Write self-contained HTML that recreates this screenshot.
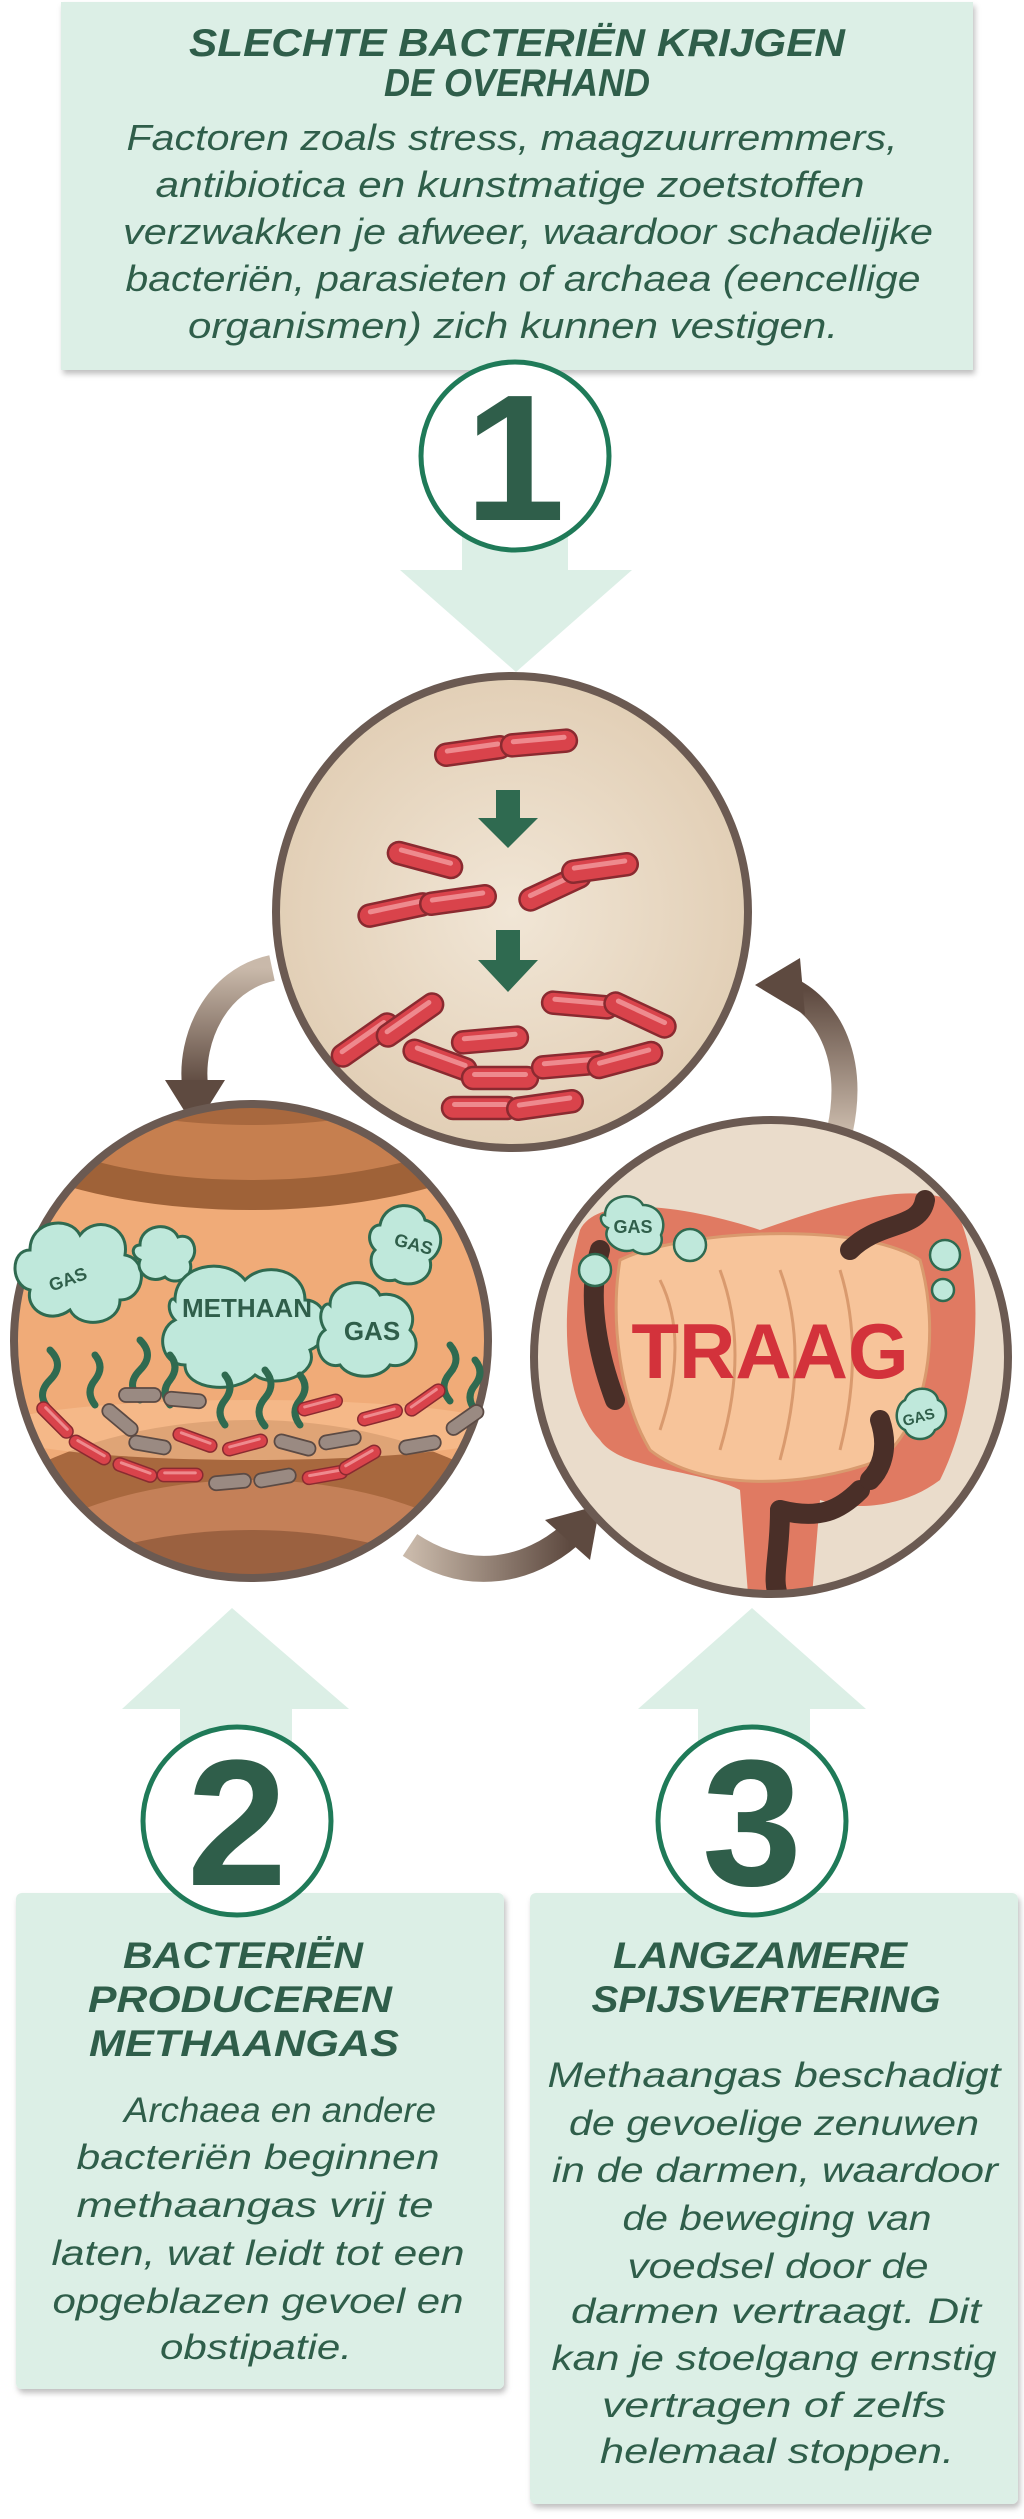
<!DOCTYPE html>
<html><head><meta charset="utf-8"><style>
html,body{margin:0;padding:0;background:#fff;}
svg{display:block;}
.t{font-family:"Liberation Sans",sans-serif;font-weight:bold;font-style:italic;fill:#2f5e4a;text-anchor:middle;}
.b{font-family:"Liberation Sans",sans-serif;font-style:italic;fill:#2f5e4a;text-anchor:middle;}
.n{font-family:"Liberation Sans",sans-serif;font-weight:bold;fill:#2f5e4a;text-anchor:middle;}
.g{font-family:"Liberation Sans",sans-serif;font-weight:bold;fill:#2f5e4a;text-anchor:middle;}
</style></head><body>
<svg width="1024" height="2519" viewBox="0 0 1024 2519" xmlns="http://www.w3.org/2000/svg">
<defs>
<filter id="sh" x="-5%" y="-5%" width="110%" height="115%"><feDropShadow dx="2" dy="4" stdDeviation="3" flood-color="#000" flood-opacity="0.25"/></filter>
<clipPath id="cL"><circle cx="251" cy="1341" r="236"/></clipPath>
<clipPath id="cR"><circle cx="771" cy="1357" r="236"/></clipPath>
<linearGradient id="ag1" x1="0" y1="0" x2="0" y2="1"><stop offset="0" stop-color="#c9b9aa"/><stop offset="1" stop-color="#5e4a40"/></linearGradient>
<linearGradient id="ag2" x1="0" y1="0" x2="1" y2="0"><stop offset="0" stop-color="#c9b9aa"/><stop offset="1" stop-color="#5e4a40"/></linearGradient>
<linearGradient id="ag3" x1="0" y1="1" x2="0" y2="0"><stop offset="0" stop-color="#c9b9aa"/><stop offset="1" stop-color="#5e4a40"/></linearGradient>
<radialGradient id="bg1"><stop offset="0" stop-color="#f1e6d6"/><stop offset="1" stop-color="#e2cfb6"/></radialGradient>
<g id="pill"><rect x="-38" y="-11" width="76" height="22" rx="11" fill="#d9434b" stroke="#8a2a30" stroke-width="2.5"/><rect x="-28" y="-6" width="56" height="5" rx="2.5" fill="#ee8a8e"/></g>
<g id="gpill"><rect x="-30" y="-10" width="60" height="20" rx="10" fill="#9a8a82" stroke="#5b4a44" stroke-width="2.5"/></g>
</defs>

<!-- top box -->
<rect x="61" y="2" width="912" height="368" fill="#dcefe6" filter="url(#sh)"/>
<text class="t" x="517" y="56" font-size="39" textLength="656" lengthAdjust="spacingAndGlyphs">SLECHTE BACTERIËN KRIJGEN</text>
<text class="t" x="517" y="96" font-size="39" textLength="266" lengthAdjust="spacingAndGlyphs">DE OVERHAND</text>
<text class="b" x="512" y="150" font-size="36" textLength="771" lengthAdjust="spacingAndGlyphs">Factoren zoals stress, maagzuurremmers,</text>
<text class="b" x="510" y="197" font-size="36" textLength="709" lengthAdjust="spacingAndGlyphs">antibiotica en kunstmatige zoetstoffen</text>
<text class="b" x="528" y="244" font-size="36" textLength="810" lengthAdjust="spacingAndGlyphs">verzwakken je afweer, waardoor schadelijke</text>
<text class="b" x="523" y="291" font-size="36" textLength="795" lengthAdjust="spacingAndGlyphs">bacteriën, parasieten of archaea (eencellige</text>
<text class="b" x="513" y="338" font-size="36" textLength="650" lengthAdjust="spacingAndGlyphs">organismen) zich kunnen vestigen.</text>

<!-- down arrow 1 -->
<rect x="462" y="520" width="106" height="70" fill="#dcefe6"/>
<polygon points="400,570 632,570 516,672" fill="#dcefe6"/>
<circle cx="515" cy="456" r="94" fill="#fff" stroke="#1f7a58" stroke-width="5"/>
<text class="n" x="515" y="520" font-size="180">1</text>

<!-- connectors -->
<path d="M272,968 C215,980 190,1040 195,1085" fill="none" stroke="url(#ag1)" stroke-width="26"/>
<polygon points="165,1080 225,1080 195,1128" fill="#5e4a40"/>
<path d="M410,1545 C470,1585 530,1570 570,1535" fill="none" stroke="url(#ag2)" stroke-width="26"/>
<polygon points="545,1520 600,1505 590,1560" fill="#5e4a40"/>
<path d="M840,1130 C855,1060 830,1010 790,990" fill="none" stroke="url(#ag3)" stroke-width="26"/>
<polygon points="755,985 800,958 805,1015" fill="#5e4a40"/>

<!-- top circle -->
<circle cx="512" cy="912" r="236" fill="url(#bg1)" stroke="#6b5a52" stroke-width="8"/>
<use href="#pill" transform="translate(473,751) rotate(-8)"/>
<use href="#pill" transform="translate(539,743) rotate(-5)"/>
<rect x="496" y="790" width="24" height="30" fill="#2f6a50"/><polygon points="478,818 538,818 508,848" fill="#2f6a50"/>
<use href="#pill" transform="translate(425,860) rotate(15)"/>
<use href="#pill" transform="translate(555,888) rotate(-25)"/>
<use href="#pill" transform="translate(396,910) rotate(-12)"/>
<use href="#pill" transform="translate(458,900) rotate(-8)"/>
<use href="#pill" transform="translate(600,868) rotate(-8)"/>
<rect x="496" y="930" width="24" height="32" fill="#2f6a50"/><polygon points="478,960 538,960 508,992" fill="#2f6a50"/>
<use href="#pill" transform="translate(365,1040) rotate(-35)"/>
<use href="#pill" transform="translate(410,1020) rotate(-35)"/>
<use href="#pill" transform="translate(490,1040) rotate(-5)"/>
<use href="#pill" transform="translate(580,1005) rotate(5)"/>
<use href="#pill" transform="translate(640,1015) rotate(25)"/>
<use href="#pill" transform="translate(440,1060) rotate(20)"/>
<use href="#pill" transform="translate(500,1078) rotate(0)"/>
<use href="#pill" transform="translate(570,1065) rotate(-5)"/>
<use href="#pill" transform="translate(625,1060) rotate(-15)"/>
<use href="#pill" transform="translate(480,1108) rotate(0)"/>
<use href="#pill" transform="translate(545,1105) rotate(-8)"/>

<!-- left circle -->
<g clip-path="url(#cL)">
<rect x="0" y="1100" width="520" height="500" fill="#f0ab78"/>
<ellipse cx="251" cy="1070" rx="330" ry="140" fill="#9f6238"/>
<ellipse cx="251" cy="1060" rx="290" ry="120" fill="#c67f4f"/>
<ellipse cx="251" cy="1030" rx="260" ry="95" fill="#a8683e"/>
<ellipse cx="251" cy="1610" rx="330" ry="190" fill="#a8683e"/>
<ellipse cx="251" cy="1650" rx="300" ry="170" fill="#c48058"/>
<ellipse cx="251" cy="1690" rx="300" ry="160" fill="#9b6140"/>
<ellipse cx="251" cy="1430" rx="260" ry="30" fill="#f6bd8f" opacity="0.7"/>
</g>
<circle cx="251" cy="1341" r="237" fill="none" stroke="#6b5a52" stroke-width="8"/>
<g fill="#bfe8db" stroke="#2f6a50" stroke-width="3">
<path d="M30,1250 c0,-30 40,-35 50,-15 c15,-20 50,-10 45,20 c25,5 20,45 -5,45 c0,25 -40,30 -50,10 c-20,15 -45,0 -40,-20 c-20,-5 -20,-40 0,-40z"/>
<path d="M140,1245 c0,-20 30,-25 38,-8 c15,-5 22,15 12,25 c5,15 -15,25 -25,15 c-15,8 -30,-5 -25,-17 c-10,-5 -8,-15 0,-15z"/>
<path d="M175,1300 c0,-35 50,-45 70,-20 c20,-20 60,-10 60,20 c25,0 30,40 5,50 c10,25 -35,40 -55,25 c-20,20 -70,15 -70,-10 c-25,0 -30,-35 -10,-45 c-10,-10 -5,-25 0,-20z"/>
<path d="M330,1305 c0,-25 40,-30 50,-10 c20,-5 40,15 30,35 c15,15 0,40 -20,35 c-10,15 -40,15 -50,0 c-20,5 -30,-25 -15,-35 c-10,-15 0,-30 5,-25z"/>
<path d="M380,1225 c5,-25 40,-25 45,-5 c20,5 20,30 5,40 c5,20 -20,30 -35,20 c-20,5 -30,-20 -20,-30 c-10,-10 -5,-25 5,-25z"/>
</g>
<text class="g" x="70" y="1285" font-size="18" transform="rotate(-20 70 1285)">GAS</text>
<text class="g" x="247" y="1317" font-size="26">METHAAN</text>
<text class="g" x="372" y="1340" font-size="26">GAS</text>
<text class="g" x="412" y="1250" font-size="18" transform="rotate(15 412 1250)">GAS</text>
<g fill="none" stroke="#2f6a50" stroke-width="7" stroke-linecap="round">
<path d="M50,1350 q15,15 0,30 q-15,15 0,30"/><path d="M95,1355 q10,12 0,25 q-10,12 0,25"/>
<path d="M140,1340 q15,15 0,30 q-15,15 0,30"/><path d="M170,1355 q10,12 0,25 q-10,12 0,25"/>
<path d="M225,1375 q10,12 0,25 q-10,12 0,25"/><path d="M265,1370 q12,14 0,28 q-12,14 0,28"/><path d="M300,1375 q10,12 0,25 q-10,12 0,25"/>
<path d="M450,1345 q12,14 0,28 q-12,14 0,28"/><path d="M475,1360 q10,12 0,25 q-10,12 0,25"/>
</g>
<use href="#pill" transform="translate(55,1420) rotate(45) scale(0.6)"/>
<use href="#pill" transform="translate(90,1450) rotate(30) scale(0.6)"/>
<use href="#pill" transform="translate(135,1470) rotate(20) scale(0.6)"/>
<use href="#pill" transform="translate(180,1475) rotate(0) scale(0.6)"/>
<use href="#pill" transform="translate(195,1440) rotate(20) scale(0.6)"/>
<use href="#pill" transform="translate(245,1445) rotate(-15) scale(0.6)"/>
<use href="#pill" transform="translate(325,1475) rotate(-10) scale(0.6)"/>
<use href="#pill" transform="translate(360,1460) rotate(-30) scale(0.6)"/>
<use href="#pill" transform="translate(320,1405) rotate(-15) scale(0.6)"/>
<use href="#pill" transform="translate(380,1415) rotate(-15) scale(0.6)"/>
<use href="#pill" transform="translate(425,1400) rotate(-35) scale(0.6)"/>
<use href="#gpill" transform="translate(120,1420) rotate(40) scale(0.7)"/>
<use href="#gpill" transform="translate(140,1395) rotate(0) scale(0.7)"/>
<use href="#gpill" transform="translate(185,1400) rotate(5) scale(0.7)"/>
<use href="#gpill" transform="translate(150,1445) rotate(10) scale(0.7)"/>
<use href="#gpill" transform="translate(230,1482) rotate(-5) scale(0.7)"/>
<use href="#gpill" transform="translate(275,1478) rotate(-10) scale(0.7)"/>
<use href="#gpill" transform="translate(295,1445) rotate(15) scale(0.7)"/>
<use href="#gpill" transform="translate(340,1440) rotate(-10) scale(0.7)"/>
<use href="#gpill" transform="translate(420,1445) rotate(-10) scale(0.7)"/>
<use href="#gpill" transform="translate(465,1420) rotate(-35) scale(0.7)"/>

<!-- right circle -->
<g clip-path="url(#cR)">
<rect x="530" y="1110" width="490" height="500" fill="#eadccb"/>
<path d="M580,1230 C600,1190 700,1210 760,1230 C820,1210 900,1180 950,1200 C990,1260 980,1400 940,1480 C900,1510 850,1510 820,1500 L810,1620 L750,1620 L740,1490 C700,1470 620,1470 600,1440 C560,1400 560,1300 580,1230z" fill="#e07a62"/>
<path d="M620,1260 C680,1230 860,1220 920,1260 C940,1330 930,1420 880,1460 C800,1490 700,1490 650,1450 C620,1400 610,1320 620,1260z" fill="#f7c49a" stroke="#d99a6e" stroke-width="3"/>
<g fill="none" stroke="#d99a6e" stroke-width="3">
<path d="M660,1280 q30,60 0,150"/><path d="M720,1270 q30,80 0,180"/><path d="M780,1270 q30,80 0,190"/><path d="M840,1270 q25,80 0,180"/>
</g>
<g fill="none" stroke="#4a2f28" stroke-width="20" stroke-linecap="round">
<path d="M600,1250 C585,1300 600,1360 615,1400"/>
<path d="M850,1250 C880,1220 920,1230 925,1200"/>
<path d="M780,1510 C780,1560 770,1580 780,1600"/>
<path d="M780,1510 C820,1520 840,1510 860,1490"/>
<path d="M880,1420 C890,1450 880,1470 870,1480"/>
</g>
</g>
<circle cx="771" cy="1357" r="237" fill="none" stroke="#6b5a52" stroke-width="8"/>
<g fill="#bfe8db" stroke="#2f6a50" stroke-width="2.5">
<path d="M605,1215 c0,-20 30,-25 38,-10 c15,0 25,15 18,30 c5,15 -15,25 -28,15 c-15,5 -32,-10 -25,-22 c-10,-5 -8,-15 -3,-13z"/>
<circle cx="595" cy="1270" r="16"/><circle cx="690" cy="1245" r="16"/>
<circle cx="945" cy="1255" r="15"/><circle cx="943" cy="1290" r="11"/>
<path d="M905,1400 c5,-15 30,-15 33,0 c12,5 10,25 -3,30 c-5,12 -25,12 -30,0 c-12,-5 -10,-25 0,-30z"/>
</g>
<text class="g" x="633" y="1233" font-size="18">GAS</text>
<text class="g" x="920" y="1422" font-size="15" transform="rotate(-15 920 1422)">GAS</text>
<text x="770" y="1378" font-family="Liberation Sans,sans-serif" font-weight="bold" font-size="78" fill="#d3323b" text-anchor="middle">TRAAG</text>

<!-- up arrows -->
<polygon points="232,1608 122,1709 349,1709" fill="#dcefe6"/>
<rect x="180" y="1700" width="112" height="60" fill="#dcefe6"/>
<polygon points="752,1608 638,1709 866,1709" fill="#dcefe6"/>
<rect x="698" y="1700" width="112" height="60" fill="#dcefe6"/>

<!-- bottom boxes -->
<rect x="16" y="1893" width="488" height="496" rx="6" fill="#dcefe6" filter="url(#sh)"/>
<rect x="530" y="1893" width="488" height="611" rx="6" fill="#dcefe6" filter="url(#sh)"/>

<circle cx="237" cy="1821" r="94" fill="#fff" stroke="#1f7a58" stroke-width="5"/>
<text class="n" x="237" y="1885" font-size="180">2</text>
<circle cx="752" cy="1821" r="94" fill="#fff" stroke="#1f7a58" stroke-width="5"/>
<text class="n" x="752" y="1885" font-size="180">3</text>

<text class="t" x="243" y="1968" font-size="37" textLength="240" lengthAdjust="spacingAndGlyphs">BACTERIËN</text>
<text class="t" x="240" y="2012" font-size="37" textLength="304" lengthAdjust="spacingAndGlyphs">PRODUCEREN</text>
<text class="t" x="244" y="2056" font-size="37" textLength="310" lengthAdjust="spacingAndGlyphs">METHAANGAS</text>
<text class="b" x="280" y="2122" font-size="35" textLength="312" lengthAdjust="spacingAndGlyphs">Archaea en andere</text>
<text class="b" x="258" y="2169" font-size="35" textLength="363" lengthAdjust="spacingAndGlyphs">bacteriën beginnen</text>
<text class="b" x="255" y="2217" font-size="35" textLength="357" lengthAdjust="spacingAndGlyphs">methaangas vrij te</text>
<text class="b" x="258" y="2265" font-size="35" textLength="413" lengthAdjust="spacingAndGlyphs">laten, wat leidt tot een</text>
<text class="b" x="258" y="2313" font-size="35" textLength="411" lengthAdjust="spacingAndGlyphs">opgeblazen gevoel en</text>
<text class="b" x="256" y="2359" font-size="35" textLength="192" lengthAdjust="spacingAndGlyphs">obstipatie.</text>

<text class="t" x="760" y="1968" font-size="37" textLength="294" lengthAdjust="spacingAndGlyphs">LANGZAMERE</text>
<text class="t" x="766" y="2012" font-size="37" textLength="349" lengthAdjust="spacingAndGlyphs">SPIJSVERTERING</text>
<text class="b" x="774" y="2087" font-size="35" textLength="453" lengthAdjust="spacingAndGlyphs">Methaangas beschadigt</text>
<text class="b" x="774" y="2135" font-size="35" textLength="410" lengthAdjust="spacingAndGlyphs">de gevoelige zenuwen</text>
<text class="b" x="775" y="2182" font-size="35" textLength="446" lengthAdjust="spacingAndGlyphs">in de darmen, waardoor</text>
<text class="b" x="777" y="2230" font-size="35" textLength="309" lengthAdjust="spacingAndGlyphs">de beweging van</text>
<text class="b" x="778" y="2278" font-size="35" textLength="301" lengthAdjust="spacingAndGlyphs">voedsel door de</text>
<text class="b" x="776" y="2323" font-size="35" textLength="410" lengthAdjust="spacingAndGlyphs">darmen vertraagt. Dit</text>
<text class="b" x="774" y="2370" font-size="35" textLength="445" lengthAdjust="spacingAndGlyphs">kan je stoelgang ernstig</text>
<text class="b" x="774" y="2417" font-size="35" textLength="344" lengthAdjust="spacingAndGlyphs">vertragen of zelfs</text>
<text class="b" x="777" y="2463" font-size="35" textLength="354" lengthAdjust="spacingAndGlyphs">helemaal stoppen.</text>
</svg>
</body></html>
